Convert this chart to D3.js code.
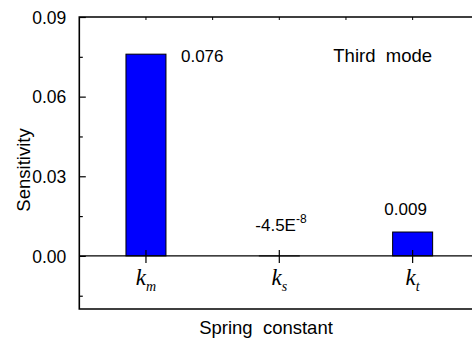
<!DOCTYPE html>
<html>
<head>
<meta charset="utf-8">
<script src="https://cdn.jsdelivr.net/npm/d3@7"></script>
<style>
  html, body { margin: 0; padding: 0; background: #fff; }
  svg { display: block; }
  text { font-family: "Liberation Sans", Arial, sans-serif; fill: #000; white-space: pre; }
  .cat { font-family: "Liberation Serif", "Times New Roman", serif; font-style: italic; }
</style>
</head>
<body>
<svg id="chart" width="472" height="342"></svg>
<script>
// Sensitivity of the third mode to each spring constant
const categories = ["m", "s", "t"];            // subscripts of k
const values = [0.076, -4.5e-8, 0.009];
const valueLabels = ["0.076", "-4.5E", "0.009"];
const valueExponents = ["", "-8", ""];
const yMajorTicks = [0, 0.03, 0.06, 0.09];
const yMinorTicks = [-0.015, 0.015, 0.045, 0.075];
const yTickLabels = ["0.00", "0.03", "0.06", "0.09"];
const yLabel = "Sensitivity";
const xLabel = "Spring  constant";
const annotation = "Third  mode";

const svg = d3.select("#chart");
const plotLeft = 79.3, plotRight = 479.3, plotTop = 17, plotBottom = 309;

const x = d3.scalePoint().domain(categories).range([plotLeft, plotRight]).padding(0.5);
const y = d3.scaleLinear().domain([-0.02, 0.09]).range([plotBottom, plotTop]);
const barW = x.step() * 0.3;

// bars
svg.selectAll("rect.bar")
  .data(values)
  .join("rect")
  .attr("class", "bar")
  .attr("x", (d, i) => x(categories[i]) - barW / 2)
  .attr("width", barW)
  .attr("y", d => y(Math.max(0, d)))
  .attr("height", d => Math.abs(y(d) - y(0)))
  .attr("fill", "#0000ff")
  .attr("stroke", "#000")
  .attr("stroke-width", 1);

// frame
svg.append("path")
  .attr("d", `M${plotLeft},${plotTop}H${plotRight}V${plotBottom}H${plotLeft}Z`)
  .attr("stroke", "#000").attr("stroke-width", 1.6).attr("fill", "none");
// zero line
svg.append("line")
  .attr("x1", plotLeft).attr("x2", plotRight)
  .attr("y1", y(0)).attr("y2", y(0))
  .attr("stroke", "#000").attr("stroke-width", 1.4);

// left axis ticks (inward)
const yAxis = d3.axisLeft(y).tickValues(yMajorTicks).tickSize(-6.5)
  .tickFormat((d, i) => yTickLabels[i]).tickPadding(13);
const gy = svg.append("g").attr("transform", `translate(${plotLeft},0)`).call(yAxis);
gy.select(".domain").remove();
gy.selectAll(".tick line").attr("stroke", "#000").attr("stroke-width", 1.2);
gy.selectAll(".tick text").attr("font-size", 17.5).attr("font-family", "Liberation Sans, Arial, sans-serif")
  .attr("dy", "0.36em");

const gym = svg.append("g").attr("transform", `translate(${plotLeft},0)`)
  .call(d3.axisLeft(y).tickValues(yMinorTicks).tickSize(-3.5).tickFormat(""));
gym.select(".domain").remove();
gym.selectAll(".tick line").attr("stroke", "#000").attr("stroke-width", 1.2);

// category ticks across the zero line
svg.append("g").selectAll("line")
  .data(categories)
  .join("line")
  .attr("x1", d => x(d)).attr("x2", d => x(d))
  .attr("y1", y(0) - 6).attr("y2", y(0) + 7)
  .attr("stroke", "#000").attr("stroke-width", 1.2);

// top axis ticks at categories and midpoints
const topTicks = [];
categories.forEach(c => {
  topTicks.push(x(c));
  topTicks.push(x(c) + x.step() / 2);
});
svg.append("g").selectAll("line")
  .data(topTicks)
  .join("line")
  .attr("x1", d => d).attr("x2", d => d)
  .attr("y1", plotTop).attr("y2", plotTop + 3)
  .attr("stroke", "#000").attr("stroke-width", 1);

// category labels k_m, k_s, k_t
const cat = svg.append("g").selectAll("text")
  .data(categories)
  .join("text")
  .attr("class", "cat")
  .attr("x", d => x(d))
  .attr("y", 285)
  .attr("text-anchor", "middle");
cat.append("tspan").attr("font-size", 23).text("k");
cat.append("tspan").attr("font-size", 14).attr("dy", 6).text(d => d);

// value labels
const vl = svg.append("g").selectAll("text")
  .data(values)
  .join("text")
  .attr("font-size", 17)
  .attr("x", (d, i) => i === 0 ? x(categories[i]) + barW / 2 + 15 : (i === 1 ? x(categories[i]) - 24 : x(categories[i]) - 7))
  .attr("y", (d, i) => i === 0 ? y(d) + 7.5 : (i === 1 ? y(0) - 24.5 : y(d) - 17.5))
  .attr("text-anchor", (d, i) => i === 2 ? "middle" : "start");
vl.append("tspan").text((d, i) => valueLabels[i]);
vl.append("tspan").attr("font-size", 12).attr("dy", -8).text((d, i) => valueExponents[i]);

// annotation
svg.append("text").attr("x", 333.3).attr("y", 61.5).attr("font-size", 18.5).text(annotation);

// axis titles
svg.append("text")
  .attr("transform", `translate(29.5,${170}) rotate(-90)`)
  .attr("text-anchor", "middle").attr("font-size", 18.5).text(yLabel);
svg.append("text")
  .attr("x", 266).attr("y", 334)
  .attr("text-anchor", "middle").attr("font-size", 18.5).text(xLabel);
</script>
</body>
</html>
